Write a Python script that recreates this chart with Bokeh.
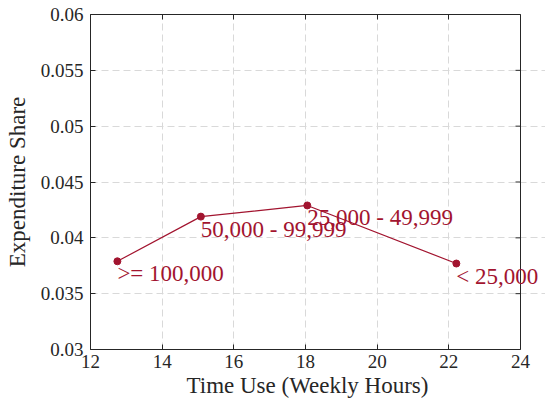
import math
from bokeh.plotting import figure
from bokeh.models import ColumnDataSource, LinearAxis, Range1d, FixedTicker, Label, Span, Title
from bokeh.embed import file_html
from bokeh.resources import INLINE

# Weekly hours of time use vs. expenditure share, by household income group
income_groups = [">= 100,000", "50,000 - 99,999", "25,000 - 49,999", "< 25,000"]
weekly_hours = [12.75, 15.08, 18.05, 22.21]
expenditure_share = [0.0379, 0.0419, 0.0429, 0.0377]

x_ticks = [12, 14, 16, 18, 20, 22, 24]
y_ticks = [0.03, 0.035, 0.04, 0.045, 0.05, 0.055, 0.06]
y_tick_labels = {0.03: "0.03", 0.035: "0.035", 0.04: "0.04", 0.045: "0.045",
                 0.05: "0.05", 0.055: "0.055", 0.06: "0.06"}

X_MIN, X_MAX = 12, 24
Y_MIN, Y_MAX = 0.03, 0.06

FONT = "Liberation Serif"
RED = "#A2142F"
INK = "#262626"

W, H = 545, 410
LEFT, RIGHT_GAP, TOP, BOTTOM = 90, 25, 14, 61
box_w = W - LEFT - RIGHT_GAP
# the frame runs to the page edge so the last label can spill past the box;
# the x range is widened by the same pixel scale
x_end = X_MAX + RIGHT_GAP * (X_MAX - X_MIN) / box_w

src = ColumnDataSource(dict(x=weekly_hours, y=expenditure_share, label=income_groups))

p = figure(width=W, height=H, output_backend="svg", toolbar_location=None,
           x_range=Range1d(X_MIN, x_end), y_range=Range1d(Y_MIN, Y_MAX),
           min_border_left=LEFT, min_border_right=0, min_border_top=TOP,
           min_border_bottom=BOTTOM, y_axis_label="Expenditure Share")
p.background_fill_color = "white"
p.border_fill_color = "white"
p.outline_line_color = None

p.xgrid.ticker = FixedTicker(ticks=x_ticks)
p.ygrid.ticker = FixedTicker(ticks=y_ticks)
p.ygrid.bounds = (X_MIN, X_MAX)
p.grid.grid_line_color = "#d9d9d9"
p.grid.grid_line_dash = "7 4"
p.grid.grid_line_width = 1

# right edge of the axes box with inward ticks
p.add_layout(Span(location=X_MAX, dimension="height", line_color=INK, line_width=1))
p.ray(x=[X_MAX] * len(y_ticks), y=y_ticks, length=5, length_units="screen",
      angle=math.pi, line_color=INK, line_width=1)

p.line("x", "y", source=src, line_color=RED, line_width=1.2)
p.scatter("x", "y", source=src, size=7, color=RED)

for hx, share, name in zip(weekly_hours, expenditure_share, income_groups):
    p.add_layout(Label(x=hx, y=share, text=name, text_color=RED,
                       text_font=FONT, text_font_size="23px", text_align="left",
                       text_baseline="top"))


def style_axis(ax, show_labels=True):
    ax.axis_line_color = INK
    ax.major_tick_in = 5
    ax.major_tick_out = 0
    ax.minor_tick_in = 0
    ax.minor_tick_out = 0
    ax.major_tick_line_color = INK
    ax.major_label_text_font = FONT
    ax.major_label_text_font_size = "19px"
    ax.major_label_text_color = INK
    ax.axis_label_text_font = FONT
    ax.axis_label_text_font_size = "23px"
    ax.axis_label_text_font_style = "normal"
    ax.axis_label_text_color = INK
    if not show_labels:
        ax.major_label_text_font_size = "0px"
        ax.major_label_text_alpha = 0


bottom = p.below[0]
bottom.ticker = FixedTicker(ticks=x_ticks)
bottom.bounds = (X_MIN, X_MAX)
bottom.major_label_standoff = 5
style_axis(bottom)

for ax in p.yaxis:
    ax.ticker = FixedTicker(ticks=y_ticks)
    ax.major_label_overrides = y_tick_labels
    ax.major_label_standoff = 7
    ax.axis_label_standoff = 8
    style_axis(ax)

top = LinearAxis(ticker=FixedTicker(ticks=x_ticks), bounds=(X_MIN, X_MAX))
style_axis(top, show_labels=False)
p.add_layout(top, "above")

# x axis title, set under the centre of the box rather than the widened frame
x_title = Title(text="Time Use (Weekly Hours)", align="left", offset=96,
                text_font=FONT, text_font_size="23px", text_font_style="normal",
                text_color=INK, standoff=0)
p.add_layout(x_title, "below")

open("out.html", "w").write(file_html(p, INLINE))
